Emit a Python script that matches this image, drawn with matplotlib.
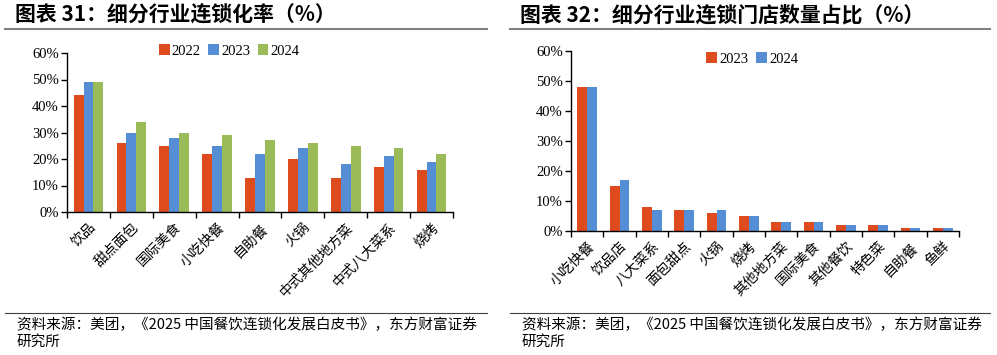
import numpy as np
import matplotlib.pyplot as plt
from matplotlib.lines import Line2D

plt.rcParams['font.family'] = ['Liberation Serif', 'Noto Sans CJK SC', 'DejaVu Sans']

# 图表31 数据
cats1 = ['饮品', '甜点面包', '国际美食', '小吃快餐', '自助餐', '火锅',
         '中式其他地方菜', '中式八大菜系', '烧烤']
v2022 = [44, 26, 25, 22, 13, 20, 13, 17, 16]
v2023 = [49, 30, 28, 25, 22, 24, 18, 21, 19]
v2024 = [49, 34, 30, 29, 27, 26, 25, 24, 22]

# 图表32 数据
cats2 = ['小吃快餐', '饮品店', '八大菜系', '面包甜点', '火锅', '烧烤',
         '其他地方菜', '国际美食', '其他餐饮', '特色菜', '自助餐', '鱼鲜']
s2023 = [48, 15, 8, 7, 6, 5, 3, 3, 2, 2, 1, 1]
s2024 = [48, 17, 7, 7, 7, 5, 3, 3, 2, 2, 1, 1]

red = '#DE4B1F'
blue = '#558ED5'
green = '#9BBB59'

W, H = 997, 355
fig = plt.figure(figsize=(W / 100, H / 100), dpi=100)

def px_axes(x0, y0, x1, y1):
    return fig.add_axes([x0 / W, (H - y1) / H, (x1 - x0) / W, (y1 - y0) / H])

def style(ax, n):
    ax.set_ylim(0, 60)
    ax.set_yticks(range(0, 61, 10))
    ax.set_yticklabels([f'{t}%' for t in range(0, 61, 10)], fontsize=10.5,
                       family=['Liberation Serif'])
    ax.set_xlim(-0.5, n - 0.5)
    ax.set_xticks(np.arange(-0.5, n, 1.0))
    ax.set_xticklabels([])
    ax.set_xticks(np.arange(n), minor=True)
    ax.tick_params(axis='x', which='minor', length=0, pad=6)
    ax.tick_params(axis='x', which='major', direction='out', length=4, width=1)
    ax.tick_params(axis='y', direction='out', length=4, width=1, pad=2)
    for s in ['top', 'right']:
        ax.spines[s].set_visible(False)
    for s in ['left', 'bottom']:
        ax.spines[s].set_linewidth(1.0)

def header(x0, x1, title):
    fig.text((x0 + 10) / W, 1 - 15 / H, title, fontsize=15, fontweight='bold',
             family=['Noto Sans CJK SC'], va='center', ha='left')
    fig.add_artist(Line2D([x0 / W, x1 / W], [1 - 29 / H, 1 - 29 / H], color='#808080', lw=1.5))
    fig.add_artist(Line2D([x0 / W, x1 / W], [1 - 313 / H, 1 - 313 / H], color='#404040', lw=0.8))
    src = '资料来源：美团，《2025 中国餐饮连锁化发展白皮书》，东方财富证券'
    fig.text((x0 + 12) / W, 1 - 325 / H, src, fontsize=10.5, family=['Noto Sans CJK SC'],
             va='center', ha='left')
    fig.text((x0 + 12) / W, 1 - 342 / H, '研究所', fontsize=10.5, family=['Noto Sans CJK SC'],
             va='center', ha='left')

leg_kw = dict(frameon=False, fontsize=10.5, handlelength=0.75, handleheight=0.75,
              handletextpad=0.15, columnspacing=0.5, borderpad=0.1)

# 左图
ax1 = px_axes(67, 53, 453, 212)
x = np.arange(len(cats1))
bw = 0.23
ax1.bar(x - bw, v2022, bw, color=red, label='2022')
ax1.bar(x, v2023, bw, color=blue, label='2023')
ax1.bar(x + bw, v2024, bw, color=green, label='2024')
style(ax1, len(cats1))
ax1.set_xticklabels(cats1, minor=True, rotation=45, ha='right', rotation_mode='anchor',
                    fontsize=10, family=['Noto Sans CJK SC'])
ax1.legend(loc='center', bbox_to_anchor=(0.42, 1.013), ncol=3, **leg_kw)
header(5, 487, '图表 31：细分行业连锁化率（%）')

# 右图
ax2 = px_axes(571, 51, 959, 231)
x2 = np.arange(len(cats2))
bw2 = 0.3
ax2.bar(x2 - bw2 / 2, s2023, bw2, color=red, label='2023')
ax2.bar(x2 + bw2 / 2, s2024, bw2, color=blue, label='2024')
style(ax2, len(cats2))
ax2.set_xticklabels(cats2, minor=True, rotation=45, ha='right', rotation_mode='anchor',
                    fontsize=10, family=['Noto Sans CJK SC'])
ax2.legend(loc='center', bbox_to_anchor=(0.467, 0.956), ncol=2, **leg_kw)
header(510, 990, '图表 32：细分行业连锁门店数量占比（%）')

fig.savefig('out.png', dpi=100)
